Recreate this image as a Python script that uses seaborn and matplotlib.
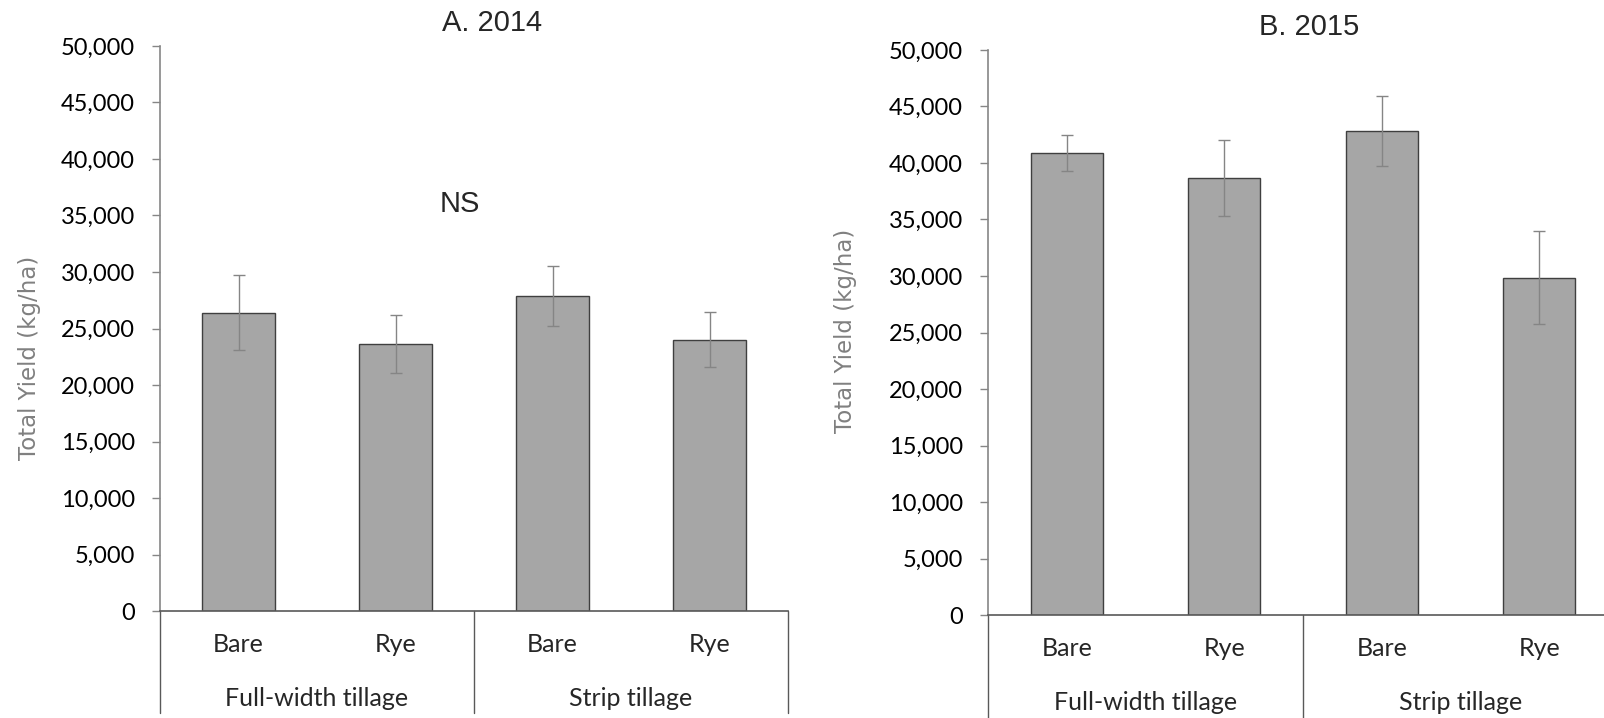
import matplotlib
matplotlib.use("Agg")
import matplotlib.pyplot as plt
import matplotlib.transforms as mtransforms
from matplotlib.ticker import FuncFormatter
import seaborn as sns
import pandas as pd
import numpy as np

# ---- data ----
tillage = ["Full-width tillage", "Full-width tillage", "Strip tillage", "Strip tillage"]
cover = ["Bare", "Rye", "Bare", "Rye"]
groups = ["Full-width tillage", "Strip tillage"]
yield_2014 = [26400, 23650, 27850, 24000]
err_2014 = [3300, 2550, 2670, 2420]
yield_2015 = [40900, 38650, 42850, 29850]
err_2015 = [1600, 3350, 3100, 4100]
titles = ["A. 2014", "B. 2015"]
yticks = [0, 5000, 10000, 15000, 20000, 25000, 30000, 35000, 40000, 45000, 50000]

sns.set_theme(style="white")
plt.rcParams["font.family"] = ["Lato", "DejaVu Sans"]

W, H = 1604, 718
fig = plt.figure(figsize=(W / 100, H / 100), dpi=100)

# axes rectangles in pixels: (left, right, zero_y, top_y)
rects = [(160, 788, 611, 46), (988, 1618, 615, 50)]
panels = [(yield_2014, err_2014), (yield_2015, err_2015)]
title_x = [0.5287, 0.51]
ylabel_pos = [(-0.189, 0.448), (-0.2077, 0.503)]
bottoms_px = [713, 718]

bar_fill = "#A6A6A6"
bar_edge = "#3f3f3f"
axis_grey = "#868686"

for k, ((l, r, y0, y1), (vals, errs)) in enumerate(zip(rects, panels)):
    ax = fig.add_axes([l / W, 1 - y0 / H, (r - l) / W, (y0 - y1) / H])
    keys = [f"{t}|{c}" for t, c in zip(tillage, cover)]
    df = pd.DataFrame({"key": keys, "value": vals})
    sns.barplot(data=df, x="key", y="value", order=keys, color=bar_fill,
                edgecolor=bar_edge, linewidth=1.0, width=0.46, errorbar=None,
                saturation=1, ax=ax)
    pos = np.arange(len(keys))
    ax.errorbar(pos, vals, yerr=errs, fmt="none", ecolor="#858585",
                elinewidth=1.0, capsize=4, capthick=1.0, zorder=5)
    ax.set_xlim(-0.5, len(keys) - 0.5)
    ax.set_ylim(0, 50000)
    ax.set_yticks(yticks)
    ax.yaxis.set_major_formatter(FuncFormatter(lambda v, p: f"{int(v):,}"))
    ax.tick_params(axis="y", which="major", left=True, length=6, width=1,
                   color=axis_grey, labelsize=17, pad=12, labelcolor="#000000")
    ax.set_xticks(pos)
    ax.set_xticklabels(cover)
    ax.tick_params(axis="x", length=0, labelsize=18, pad=16)
    ax.set_xlabel("")
    ax.set_ylabel("Total Yield (kg/ha)", fontsize=16.5, color="#808080",
                  family="DejaVu Sans")
    ax.yaxis.set_label_coords(*ylabel_pos[k])
    for s in ["top", "right"]:
        ax.spines[s].set_visible(False)
    ax.spines["left"].set_color(axis_grey)
    ax.spines["left"].set_linewidth(1.2)
    ax.spines["bottom"].set_color("#595959")
    ax.spines["bottom"].set_linewidth(1.2)
    ax.grid(False)

    # group separators and labels below the axis
    yb = -(bottoms_px[k] - y0) / (y0 - y1)
    trans = mtransforms.blended_transform_factory(ax.transData, ax.transAxes)
    n_per = len(keys) // len(groups)
    for g in range(len(groups) + 1):
        xg = g * n_per - 0.5
        ax.plot([xg, xg], [0, yb], transform=trans, color="#595959", lw=1.0,
                clip_on=False)
    for g, name in enumerate(groups):
        xc = g * n_per + (n_per - 1) / 2
        ax.text(xc, -0.154, name, transform=trans, ha="center", va="center",
                fontsize=18)

    ax.set_title(titles[k], x=title_x[k], y=1 + 23 / (y0 - y1), pad=0,
                 va="center", fontsize=21, family="Liberation Sans")
    if k == 0:
        ax.text(1.41, 36000, "NS", ha="center", va="center", fontsize=21,
                family="Liberation Sans")

fig.savefig("out.png", dpi=100)
